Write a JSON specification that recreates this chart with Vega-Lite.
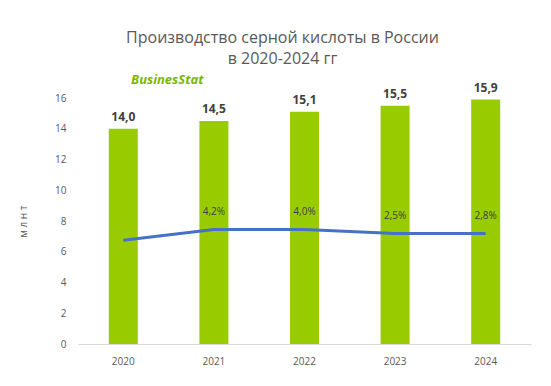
{
  "$schema": "https://vega.github.io/schema/vega-lite/v6.json",
  "width": 453,
  "height": 246,
  "autosize": {"type": "none"},
  "padding": {"left": 78, "top": 98, "right": 20, "bottom": 42},
  "background": "white",
  "title": {
    "text": ["Производство серной кислоты в России", "в 2020-2024 гг"],
    "anchor": "middle",
    "frame": "group",
    "dx": -22,
    "offset": 7,
    "font": "Open Sans",
    "fontSize": 16,
    "fontWeight": "normal",
    "color": "#595959",
    "lineHeight": 21
  },
  "config": {
    "view": {"stroke": null},
    "font": "Open Sans",
    "axisY": {
      "labelOverlap": false, "grid": false, "domain": false, "ticks": false,
      "labelColor": "#595959", "labelFontSize": 10, "labelPadding": 12,
      "titleFontWeight": "normal", "titleFontSize": 10, "titleColor": "#595959", "titlePadding": 26,
      "values": [0, 2, 4, 6, 8, 10, 12, 14, 16], "tickCount": 9
    },
    "locale": {"number": {"decimal": ",", "thousands": " ", "grouping": [3], "currency": ["", ""]}}
  },
  "data": {
    "values": [
      {"year": "2020", "value": 14.0, "line": 6.75, "growth": null},
      {"year": "2021", "value": 14.5, "line": 7.45, "growth": 0.042},
      {"year": "2022", "value": 15.1, "line": 7.45, "growth": 0.040},
      {"year": "2023", "value": 15.5, "line": 7.19, "growth": 0.025},
      {"year": "2024", "value": 15.9, "line": 7.19, "growth": 0.028}
    ]
  },
  "encoding": {
    "x": {
      "field": "year", "type": "ordinal",
      "scale": {"paddingInner": 0.68, "paddingOuter": 0.34},
      "axis": {
        "title": null, "labelAngle": 0, "ticks": false,
        "domainColor": "#d9d9d9", "domainWidth": 1,
        "labelColor": "#595959", "labelFontSize": 10, "labelPadding": 12
      }
    }
  },
  "layer": [
    {
      "mark": {"type": "bar", "color": "#99cc00"},
      "encoding": {
        "y": {
          "field": "value", "type": "quantitative",
          "scale": {"domain": [0, 16]},
          "axis": {"title": "м л н    т", "labelOverlap": false, "values": [0, 2, 4, 6, 8, 10, 12, 14, 16]}
        }
      }
    },
    {
      "mark": {"type": "text", "fontWeight": "bold", "fontSize": 12, "color": "#404040", "baseline": "alphabetic", "dy": -8},
      "encoding": {
        "y": {"field": "value", "type": "quantitative", "axis": {"title": "м л н    т", "labelOverlap": false, "values": [0, 2, 4, 6, 8, 10, 12, 14, 16]}},
        "text": {"field": "value", "type": "quantitative", "format": ".1f"}
      }
    },
    {
      "mark": {"type": "line", "color": "#4472c4", "strokeWidth": 3},
      "encoding": {
        "y": {"field": "line", "type": "quantitative", "axis": {"title": "м л н    т", "labelOverlap": false, "values": [0, 2, 4, 6, 8, 10, 12, 14, 16]}}
      }
    },
    {
      "transform": [{"filter": "datum.growth != null"}],
      "mark": {"type": "text", "fontSize": 10, "color": "#404040", "baseline": "middle", "dy": -17},
      "encoding": {
        "y": {"field": "line", "type": "quantitative", "axis": {"title": "м л н    т", "labelOverlap": false, "values": [0, 2, 4, 6, 8, 10, 12, 14, 16]}},
        "text": {"field": "growth", "type": "quantitative", "format": ".1%"}
      }
    },
    {
      "data": {"values": [{"logo": "BusinesStat", "year": "2020", "pos": 16.9}]},
      "mark": {"type": "text", "fontSize": 13, "fontStyle": "italic", "fontWeight": "bold", "color": "#7ab800", "baseline": "alphabetic", "dx": 44, "clip": false},
      "encoding": {
        "x": {"field": "year", "type": "ordinal"},
        "y": {"field": "pos", "type": "quantitative", "axis": {"title": "м л н    т", "labelOverlap": false, "values": [0, 2, 4, 6, 8, 10, 12, 14, 16]}},
        "text": {"field": "logo"}
      }
    }
  ]
}
